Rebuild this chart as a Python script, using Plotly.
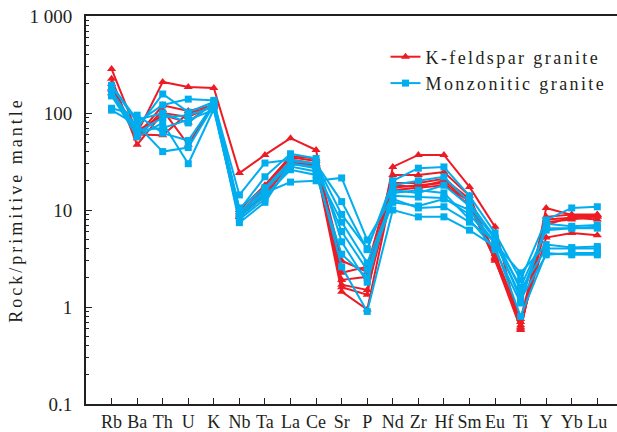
import plotly.graph_objects as go

# Primitive-mantle normalised trace element patterns
elements = ["Rb", "Ba", "Th", "U", "K", "Nb", "Ta", "La", "Ce", "Sr",
            "P", "Nd", "Zr", "Hf", "Sm", "Eu", "Ti", "Y", "Yb", "Lu"]

# K-feldspar granite samples
kfs_1 = [285, 62, 209, 185, 181, 24, 37, 55, 41.5, 1.6, 1.34, 27.8, 37, 37, 17.3, 6.7, 0.58, 10.5, 8.9, 8.9]
kfs_2 = [226, 47, 100, 91, 120, 9, 17, 35, 32, 2.25, 2.6, 23, 23, 24.6, 14, 3.2, 0.65, 7.0, 8.5, 8.5]
kfs_3 = [200, 55, 107, 47, 125, 8.5, 15, 33, 30, 1.9, 2.05, 18, 17.3, 20, 12, 3.0, 0.7, 5.2, 5.8, 5.5]
kfs_4 = [180, 60, 59, 100, 115, 9.5, 16, 30, 28, 1.44, 0.94, 17, 18, 19, 11, 3.1, 0.6, 8.0, 8.3, 8.0]
kfs_5 = [160, 65, 95, 80, 128, 10, 18, 36, 34, 3.0, 2.3, 19, 19, 21, 13, 3.5, 0.75, 8.5, 9.0, 9.0]
kfs_6 = [175, 58, 120, 105, 120, 8.5, 14, 31, 29, 1.7, 1.5, 16, 17, 18, 12.5, 3.3, 0.62, 7.5, 8.0, 8.6]

# Monzonitic granite samples
mzg_1 = [190, 80, 121, 139, 135, 9, 15, 19.4, 20, 21.4, 4.9, 14, 13.6, 13.3, 9, 4.5, 2.25, 4.4, 4.1, 4.2]
mzg_2 = [165, 70, 157, 102, 130, 14.3, 30.5, 33, 30, 12.2, 3.9, 20, 27, 27.8, 14, 5.8, 1.9, 7.9, 10.5, 10.8]
mzg_3 = [152, 57, 79, 30, 110, 8, 13, 28, 25, 7.5, 2.85, 13, 10.5, 10.8, 7.5, 4.8, 1.6, 6.2, 6.5, 6.7]
mzg_4 = [112, 95, 62, 52, 125, 10, 22, 38, 34, 4.7, 1.8, 16, 15, 18, 11, 5.0, 1.2, 3.45, 3.6, 3.6]
mzg_5 = [107, 75, 40, 44, 120, 7.4, 12, 30, 27, 2.6, 0.9, 10, 8.5, 8.5, 6.2, 4.2, 0.8, 3.6, 3.45, 3.45]
mzg_6 = [193, 85, 100, 79, 128, 10.5, 17, 32, 30, 9, 4.0, 18, 20, 22, 12, 5.2, 1.5, 4.0, 4.0, 4.0]
mzg_7 = [170, 62, 90, 95, 115, 9.5, 16, 30, 28, 6, 2.4, 12, 11, 13, 10, 4.6, 1.3, 6.5, 6.5, 6.5]
mzg_8 = [150, 66, 70, 85, 108, 8.5, 14, 26, 23, 3.5, 2.0, 15, 16, 15, 8, 3.9, 1.1, 7.2, 6.8, 7.0]

kfs_samples = [kfs_1, kfs_2, kfs_3, kfs_4, kfs_5, kfs_6]
mzg_samples = [mzg_1, mzg_2, mzg_3, mzg_4, mzg_5, mzg_6, mzg_7, mzg_8]

RED = "#ED1C24"
BLUE = "#00AEEF"
INK = "#231F20"
FONT = "Liberation Serif, Times New Roman, serif"

fig = go.Figure()
xs = list(range(len(elements)))

for i, s in enumerate(kfs_samples):
    fig.add_trace(go.Scatter(
        x=xs, y=s, mode="lines+markers", name="K-feldspar granite",
        legendgroup="kfs", showlegend=(i == 0),
        line=dict(color=RED, width=2),
        marker=dict(symbol="triangle-up", size=8, color=RED),
    ))

for i, s in enumerate(mzg_samples):
    fig.add_trace(go.Scatter(
        x=xs, y=s, mode="lines+markers", name="Monzonitic granite",
        legendgroup="mzg", showlegend=(i == 0),
        line=dict(color=BLUE, width=2),
        marker=dict(symbol="square", size=7, color=BLUE),
    ))

minor_vals = [m * 10 ** e for e in range(-1, 3) for m in range(2, 10)]

fig.update_layout(
    template="simple_white",
    width=617, height=432,
    margin=dict(l=86, r=0, t=16, b=28, autoexpand=False),
    paper_bgcolor="white", plot_bgcolor="white",
    font=dict(family=FONT, size=16, color=INK),
    showlegend=True,
    legend=dict(
        x=0.564, y=0.942, xanchor="left", yanchor="top",
        bgcolor="rgba(0,0,0,0)", font=dict(size=18, family=FONT, color=INK),
        tracegroupgap=0, itemwidth=30,
    ),
    xaxis=dict(
        range=[-1, 19.77], tickmode="array", tickvals=xs, ticktext=elements,
        tickangle=0, automargin=False,
        ticks="inside", ticklen=6, tickwidth=1, tickcolor=INK,
        showline=True, linecolor=INK, linewidth=2, mirror=True,
        showgrid=False, zeroline=False, ticklabelstandoff=0,
        tickfont=dict(size=18, family=FONT, color=INK),
    ),
    yaxis=dict(
        type="log", range=[-1, 3], automargin=False,
        tickmode="array", tickvals=[0.1, 1, 10, 100, 1000],
        ticktext=["0.1", "1", "10", "100", "1 000"],
        ticks="inside", ticklen=6, tickwidth=1, tickcolor=INK,
        minor=dict(tickmode="array", tickvals=minor_vals, ticks="inside",
                   ticklen=3, tickwidth=1, tickcolor=INK, showgrid=False),
        showline=True, linecolor=INK, linewidth=2, mirror=False,
        showgrid=False, zeroline=False, ticklabelstandoff=8,
        title=dict(text="Rock/primitive mantle",
                   font=dict(size=18, family=FONT, color=INK), standoff=2),
        tickfont=dict(size=19, family=FONT, color=INK),
    ),
)

# Widen the tracking of the legend entries and the y-axis title
spacing_js = """
var gd = document.getElementsByClassName('plotly-graph-div')[0];
function track() {
  gd.querySelectorAll('.legend [clip-path]').forEach(function (el) { el.removeAttribute('clip-path'); });
  gd.querySelectorAll('.legendtext').forEach(function (t) { t.style.letterSpacing = '2.4px'; });
  gd.querySelectorAll('.ytitle').forEach(function (t) { t.style.letterSpacing = '3px'; });
}
track();
gd.on('plotly_afterplot', track);
"""

fig.write_html("out.html", post_script=spacing_js)
